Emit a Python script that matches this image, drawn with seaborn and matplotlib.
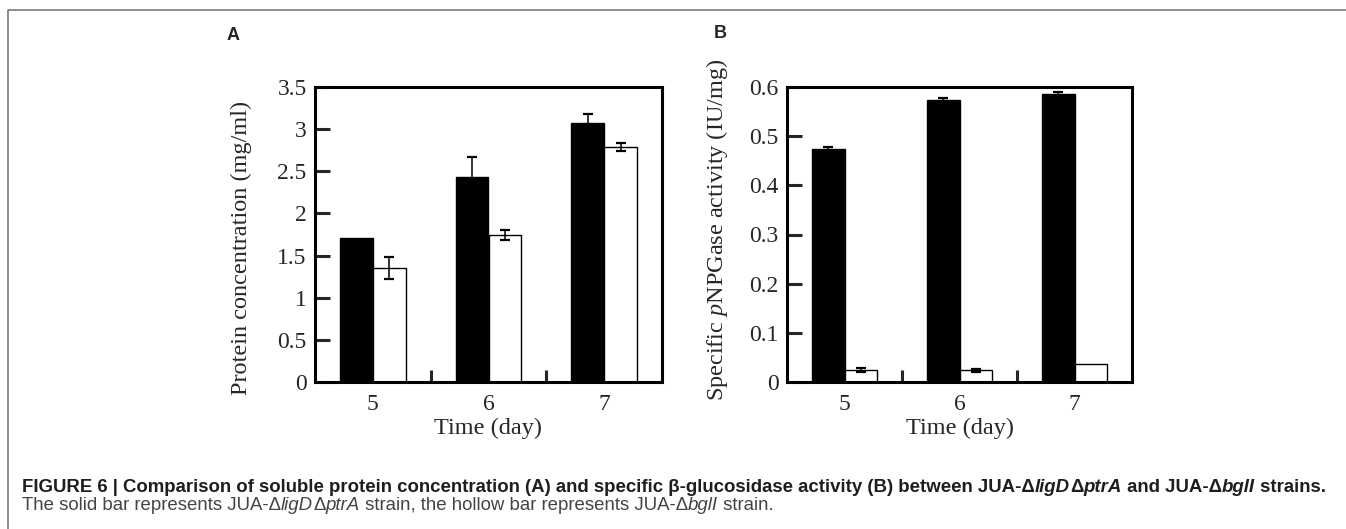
import numpy as np
import pandas as pd
import matplotlib
matplotlib.use('Agg')
import matplotlib.pyplot as plt
import matplotlib.ticker as mticker
from matplotlib.lines import Line2D
import seaborn as sns

# 数据
days = ['5', '6', '7']
strains = ['JUA-ΔligDΔptrA', 'JUA-ΔbglI']
protein_solid = [1.71, 2.43, 3.07]
protein_hollow = [1.35, 1.74, 2.79]
protein_solid_err = [0.0, 0.24, 0.11]
protein_hollow_err = [0.13, 0.06, 0.05]
activity_solid = [0.473, 0.574, 0.586]
activity_hollow = [0.025, 0.024, 0.036]
activity_solid_err = [0.004, 0.003, 0.004]
activity_hollow_err = [0.004, 0.003, 0.0]
protein_ticks = [0, 0.5, 1, 1.5, 2, 2.5, 3, 3.5]
activity_ticks = [0, 0.1, 0.2, 0.3, 0.4, 0.5, 0.6]

sns.set_style('white')
plt.rcParams['font.family'] = ['Liberation Serif', 'DejaVu Serif']
plt.rcParams['mathtext.fontset'] = 'custom'
plt.rcParams['mathtext.it'] = 'Liberation Serif:italic'
plt.rcParams['mathtext.rm'] = 'Liberation Serif'

W, H = 1346, 529
fig = plt.figure(figsize=(W / 100, H / 100), dpi=100)


def make_df(solid, hollow):
    return pd.DataFrame({
        'day': days * 2,
        'strain': [strains[0]] * 3 + [strains[1]] * 3,
        'value': list(solid) + list(hollow),
    })


def draw_panel(rect, solid, hollow, solid_err, hollow_err, ticks, ylabel, label_xy):
    ax = fig.add_axes(rect)
    df = make_df(solid, hollow)
    sns.barplot(data=df, x='day', y='value', hue='strain', palette=['black', 'white'],
                width=0.57, gap=0, edgecolor='black', linewidth=1.0, errorbar=None,
                legend=False, ax=ax)
    errs = list(solid_err) + list(hollow_err)
    xs, hs, es = [], [], []
    for p, e in zip(ax.patches, errs):
        if e > 0:  # 误差为0的不画
            xs.append(p.get_x() + p.get_width() / 2)
            hs.append(p.get_height())
            es.append(e)
    ax.errorbar(xs, hs, yerr=es, fmt='none', ecolor='black', elinewidth=1.1,
                capsize=3.5, capthick=1.6, zorder=3)
    ax.set_xlim(-0.5, 2.5)
    ax.set_ylim(ticks[0], ticks[-1])
    ax.set_yticks(ticks)
    ax.yaxis.set_major_formatter(mticker.FuncFormatter(lambda v, p: '%g' % v))
    ax.set_xticks([0.5, 1.5], minor=True)
    ax.tick_params(axis='y', left=True, direction='in', length=10.5, width=2.2,
                   labelsize=17, pad=6)
    ax.tick_params(axis='x', which='major', bottom=True, length=0, labelsize=17, pad=9)
    ax.tick_params(axis='x', which='minor', bottom=True, direction='in', length=9, width=2.2)
    for s in ax.spines.values():
        s.set_linewidth(2.2)
        s.set_color('black')
    ax.set_xlabel('Time (day)', fontsize=17.5, labelpad=2)
    ax.set_ylabel(ylabel, fontsize=17.5)
    ax.yaxis.set_label_coords(*label_xy)
    return ax


axA = draw_panel([315 / W, 1 - 382 / H, 347 / W, 295 / H], protein_solid, protein_hollow,
                 protein_solid_err, protein_hollow_err, protein_ticks,
                 'Protein concentration (mg/ml)', (-0.182, 0.454))
axB = draw_panel([787 / W, 1 - 382 / H, 345 / W, 295 / H], activity_solid, activity_hollow,
                 activity_solid_err, activity_hollow_err, activity_ticks,
                 'Specific $p$NPGase activity (IU/mg)', (-0.165, 0.515))

# 面板字母
fig.text(233 / W, 1 - 35 / H, 'A', family='Liberation Sans', weight='bold', fontsize=13,
         ha='center', va='center')
fig.text(720 / W, 1 - 34 / H, 'B', family='Liberation Sans', weight='bold', fontsize=13,
         ha='center', va='center')

# 外框
fig.add_artist(Line2D([8 / W, 8 / W, 1.0], [0.0, 1 - 10 / H, 1 - 10 / H],
                      transform=fig.transFigure, color='#6e6e6e', lw=1.1))

# 图注 (分段排版, 斜体基因名)
renderer = fig.canvas.get_renderer()


def seg_width(s, **kw):
    t1 = fig.text(0, 0, 'x' + s + 'x', **kw)
    t2 = fig.text(0, 0, 'xx', **kw)
    w = t1.get_window_extent(renderer).width - t2.get_window_extent(renderer).width
    t1.remove()
    t2.remove()
    return w


def rich_line(x_px, y_px, parts, **kw):
    x = x_px
    for s, style in parts:
        fig.text(x / W, 1 - y_px / H, s, fontstyle=style, va='center', ha='left', **kw)
        x += seg_width(s, fontstyle=style, **kw)


cap1 = [('FIGURE 6 | Comparison of soluble protein concentration (A) and specific β-glucosidase '
         'activity (B) between JUA-Δ', 'normal'), ('ligD', 'italic'), ('Δ', 'normal'),
        ('ptrA', 'italic'), (' and JUA-Δ', 'normal'), ('bglI', 'italic'), (' strains.', 'normal')]
cap2 = [('The solid bar represents JUA-Δ', 'normal'), ('ligD', 'italic'), ('Δ', 'normal'),
        ('ptrA', 'italic'), (' strain, the hollow bar represents JUA-Δ', 'normal'),
        ('bglI', 'italic'), (' strain.', 'normal')]
rich_line(22, 487, cap1, family='Liberation Sans', weight='bold', fontsize=13.4, color='#1e1e1e')
rich_line(22, 506, cap2, family='Liberation Sans', fontsize=13.4, color='#444444')

fig.savefig('out.png', dpi=100)
